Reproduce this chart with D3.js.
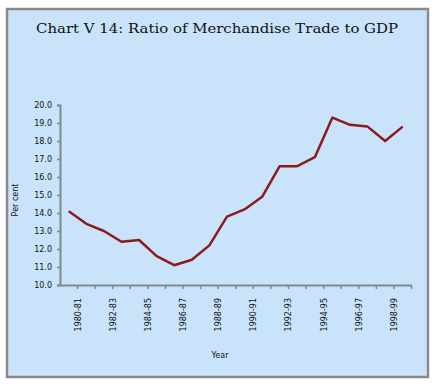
<!DOCTYPE html>
<html><head><meta charset="utf-8">
<script src="https://cdn.jsdelivr.net/npm/d3@7"></script>
<style>body{margin:0;background:#fff}svg{display:block}</style>
</head><body>
<script>
const categories = ["1980-81","1981-82","1982-83","1983-84","1984-85","1985-86","1986-87","1987-88","1988-89","1989-90",
  "1990-91","1991-92","1992-93","1993-94","1994-95","1995-96","1996-97","1997-98","1998-99","1999-00"];
const values = [14.1,13.4,13.0,12.4,12.5,11.6,11.1,11.4,12.2,13.8,14.2,14.9,16.6,16.6,17.1,19.3,18.9,18.8,18.0,18.8];
const yTicks = [10,11,12,13,14,15,16,17,18,19,20];
const title = "Chart V 14: Ratio of Merchandise Trade to GDP";

const W = 436, H = 389;
const svg = d3.select("body").append("svg").attr("width", W).attr("height", H);
svg.append("rect").attr("x",7).attr("y",9).attr("width",421).attr("height",368)
  .attr("fill","#c8e3fa").attr("stroke","#8a8a8a").attr("stroke-width",2.5);

svg.append("text").attr("x",217).attr("y",33).attr("text-anchor","middle")
  .attr("font-family","DejaVu Serif").attr("font-size",13).attr("textLength",362)
  .attr("lengthAdjust","spacingAndGlyphs").attr("fill","#111").text(title);

const x = d3.scaleBand().domain(categories).range([60, 411.5]).padding(0);
const y = d3.scaleLinear().domain([10,20]).range([285,105]);

// y axis
const ya = svg.append("g").attr("transform","translate(60,0)")
  .call(d3.axisLeft(y).tickValues(yTicks).tickFormat(d3.format(".1f")).tickSize(3).tickPadding(5));
ya.select(".domain").attr("stroke","#7d8a96").attr("stroke-width",2);
ya.selectAll(".tick line").attr("stroke","#7d8a96").attr("stroke-width",1.5);
ya.selectAll(".tick text").attr("font-family","DejaVu Sans").attr("font-size",8).attr("fill","#111");

// x axis
const xa = svg.append("g").attr("transform","translate(0,285)")
  .call(d3.axisBottom(x).tickValues([]).tickSizeOuter(0));
xa.select(".domain").attr("stroke","#7d8a96").attr("stroke-width",2);
const bw = x.bandwidth();
xa.selectAll(".bt").data(categories).enter().append("line").attr("class","bt")
  .attr("x1", d => x(d) + bw).attr("x2", d => x(d) + bw).attr("y1",0).attr("y2",4)
  .attr("stroke","#7d8a96").attr("stroke-width",1.5);
xa.selectAll(".lbl").data(categories.filter((d,i) => i % 2 === 0)).enter().append("text").attr("class","lbl")
  .attr("transform", d => `translate(${x(d) + bw + 3},13) rotate(-90)`)
  .attr("text-anchor","end").attr("font-family","DejaVu Sans").attr("font-size",8).attr("fill","#111").text(d => d);

// line
const line = d3.line().x((d,i) => x(categories[i]) + bw/2).y(d => y(d));
svg.append("path").datum(values).attr("d", line).attr("fill","none")
  .attr("stroke","#8e1b1b").attr("stroke-width",2.5).attr("stroke-linejoin","round");

// axis titles
svg.append("text").attr("transform","translate(18,200) rotate(-90)").attr("text-anchor","middle")
  .attr("font-family","DejaVu Sans").attr("font-size",8).attr("fill","#111").text("Per cent");
svg.append("text").attr("x",220).attr("y",358).attr("text-anchor","middle")
  .attr("font-family","DejaVu Sans").attr("font-size",8).attr("fill","#111").text("Year");
</script>
</body></html>
